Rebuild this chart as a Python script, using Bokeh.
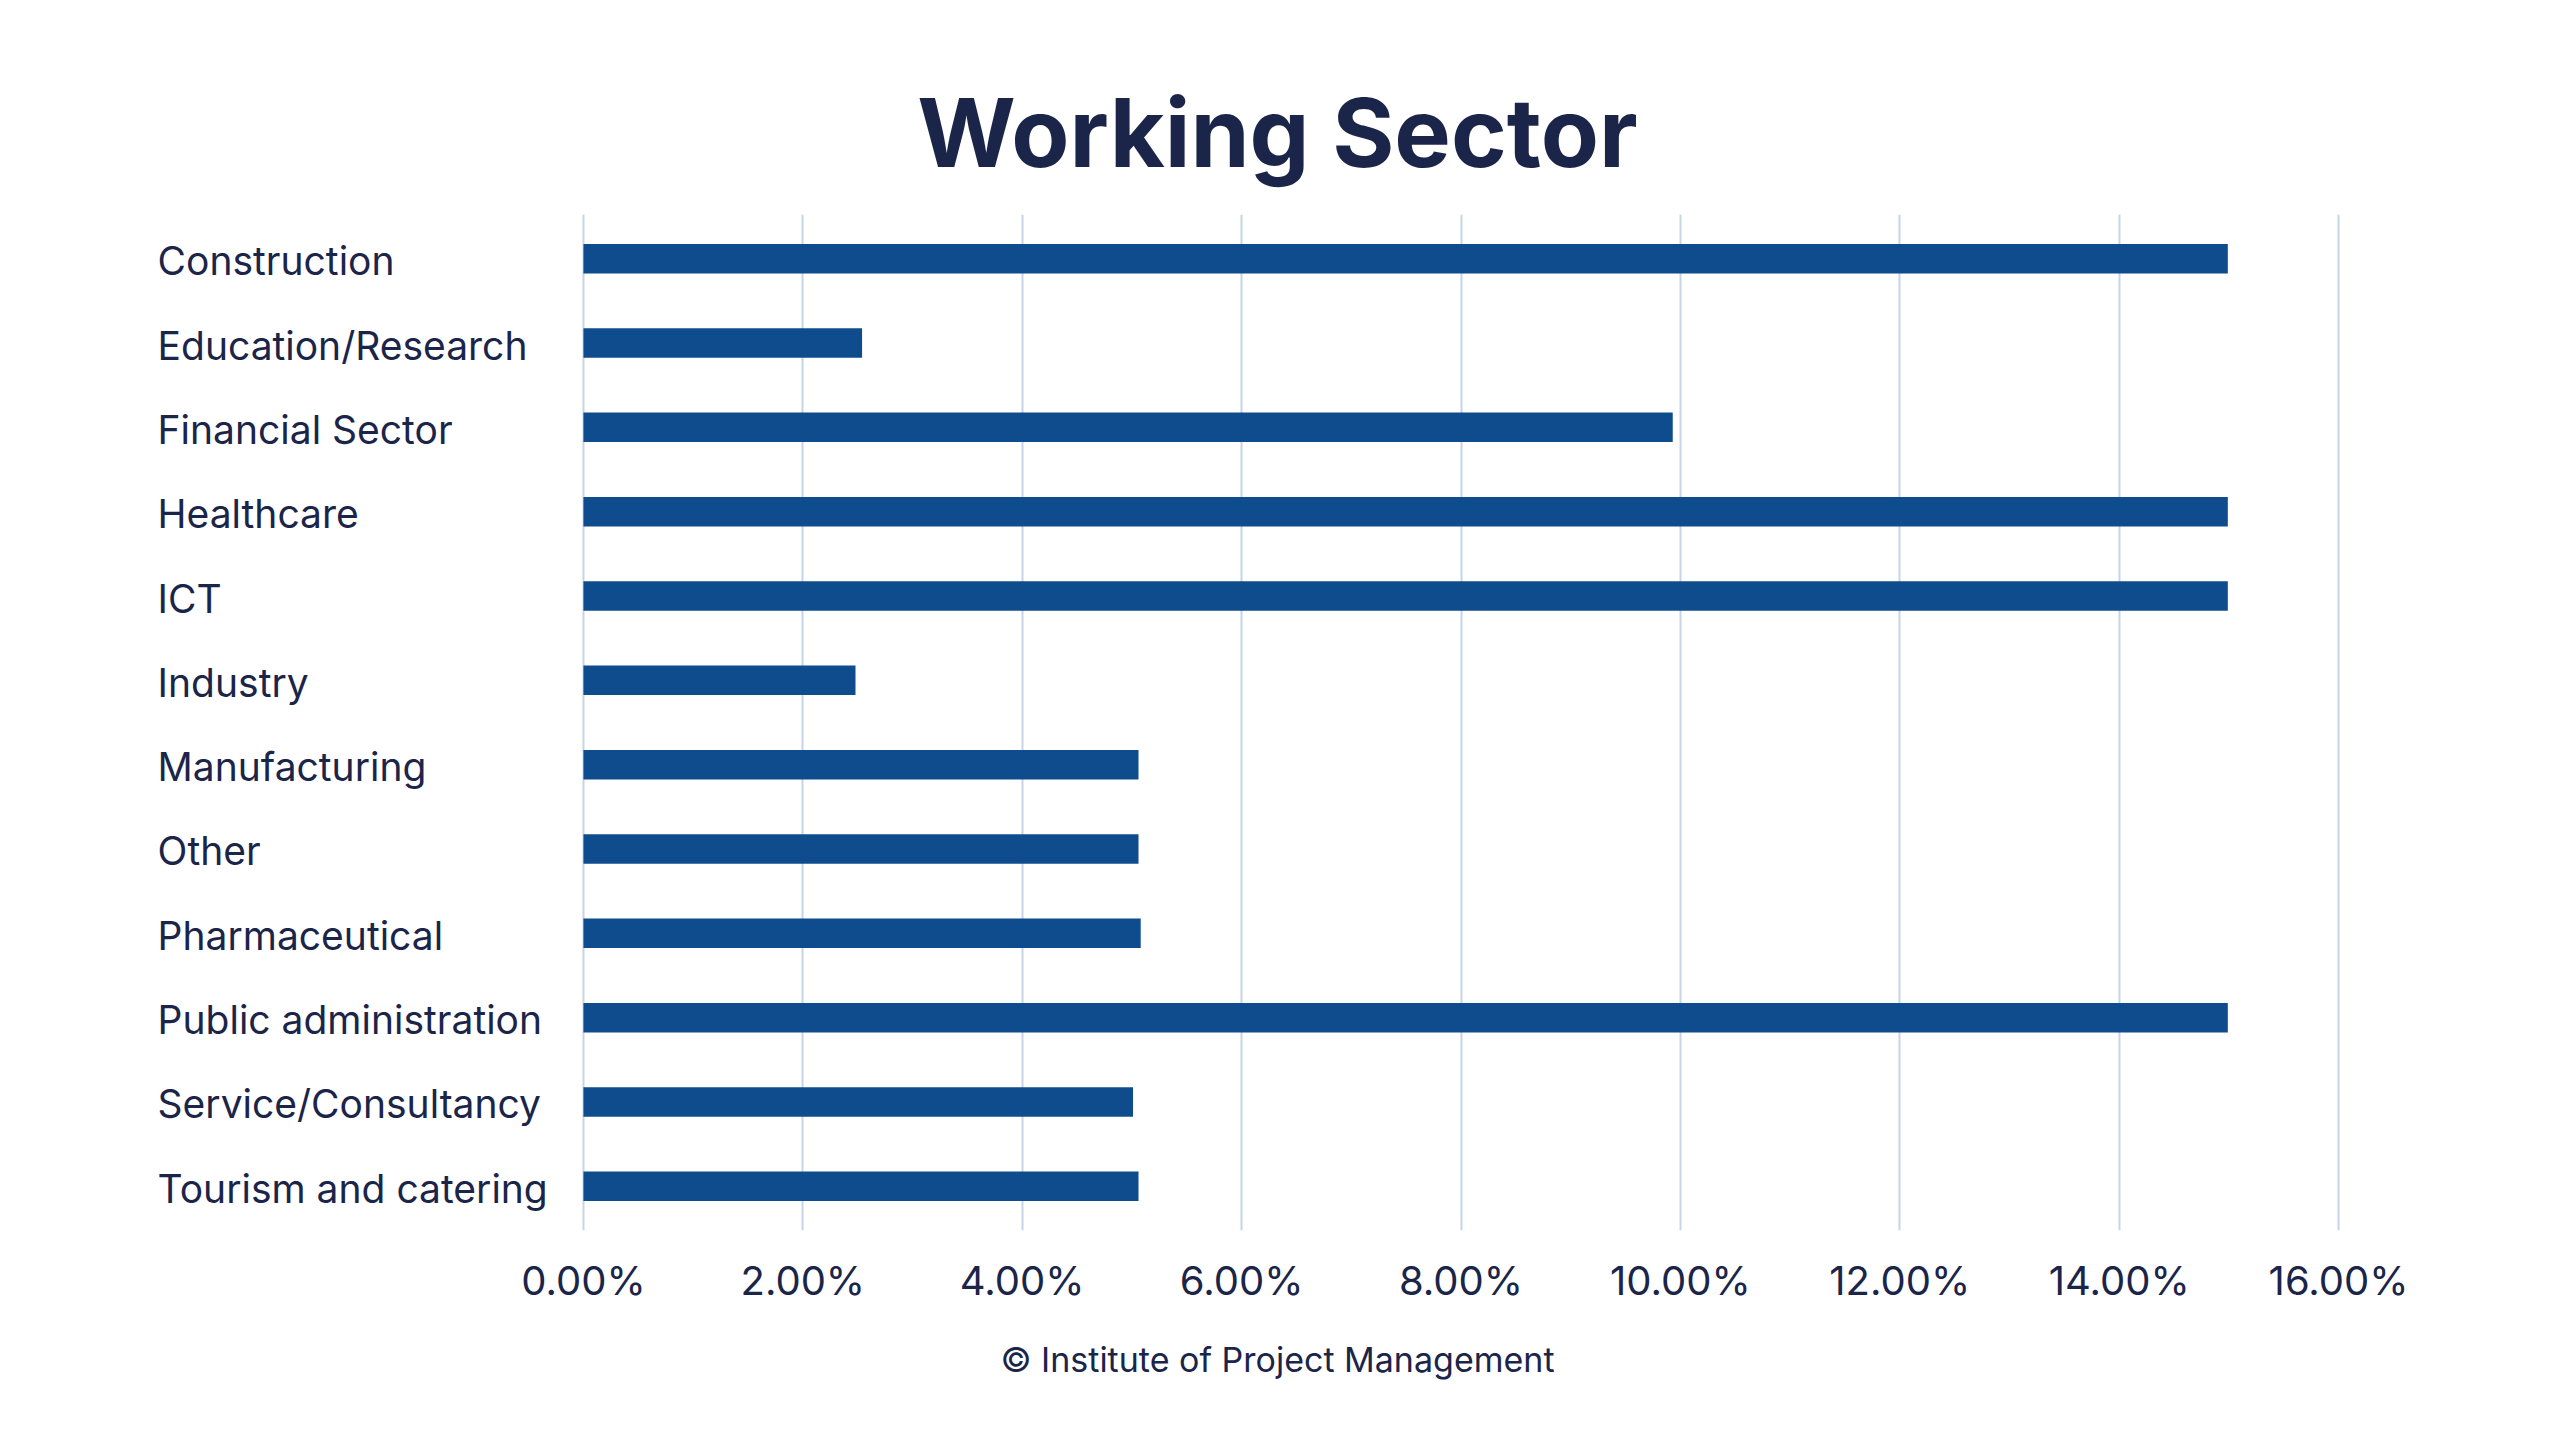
from bokeh.plotting import figure
from bokeh.models import ColumnDataSource, FactorRange, Range1d, FixedTicker, PrintfTickFormatter, Title
from bokeh.core.properties import value
from bokeh.embed import file_html
from bokeh.resources import INLINE

# ---- data ----
sectors = ["Construction", "Education/Research", "Financial Sector", "Healthcare", "ICT",
           "Industry", "Manufacturing", "Other", "Pharmaceutical", "Public administration",
           "Service/Consultancy", "Tourism and catering"]
shares = [14.99, 2.54, 9.93, 14.99, 14.99, 2.48, 5.06, 5.06, 5.08, 14.99, 5.01, 5.06]  # percent
x_ticks = [0, 2, 4, 6, 8, 10, 12, 14, 16]
title_text = "Working Sector"
footer_text = "\u00a9 Institute of Project Management"

# ---- style / layout ----
FONT = "Inter"
TEXT_COLOR = "#1b2549"
BAR_COLOR = "#0e4c8e"
GRID_COLOR = "#c6d4e6"
X_START, X_END = -3.974, 16.628
LABEL_X = -3.882

src = ColumnDataSource(dict(sector=sectors, share=shares))

p = figure(width=2544, height=1420, output_backend="svg", toolbar_location=None,
           y_range=FactorRange(*reversed(sectors), range_padding=0.004, range_padding_units="percent"),
           x_range=Range1d(X_START, X_END),
           min_border_left=147, min_border_right=137, min_border_top=214, min_border_bottom=190)

p.title.text = title_text
p.title.align = "center"
p.title.text_font = FONT
p.title.text_font_size = "95px"
p.title.text_font_style = "bold"
p.title.text_color = TEXT_COLOR
p.title.standoff = 50

p.hbar(y="sector", right="share", left=0, height=0.35, source=src,
       fill_color=BAR_COLOR, line_color=None)

p.text(x=LABEL_X, y="sector", text="sector", source=src, text_font=value(FONT),
       text_font_size="39px", text_color=TEXT_COLOR, text_align="left",
       text_baseline="middle", y_offset=2)

p.yaxis.visible = False
p.ygrid.grid_line_color = None
p.xaxis.ticker = FixedTicker(ticks=x_ticks)
p.xaxis.formatter = PrintfTickFormatter(format="%.2f%%")
p.xaxis.axis_line_color = None
p.xaxis.major_tick_line_color = None
p.xaxis.minor_tick_line_color = None
p.xaxis.major_label_text_font = FONT
p.xaxis.major_label_text_font_size = "40px"
p.xaxis.major_label_text_color = TEXT_COLOR
p.xaxis.major_label_standoff = 19
p.xgrid.ticker = FixedTicker(ticks=x_ticks)
p.xgrid.grid_line_color = GRID_COLOR
p.xgrid.grid_line_width = 2
p.outline_line_color = None

footer = Title(text=footer_text, align="center", text_font=FONT, text_font_size="34px",
               text_font_style="normal", text_color=TEXT_COLOR, standoff=58)
p.add_layout(footer, "below")

open("out.html", "w").write(file_html(p, INLINE))
